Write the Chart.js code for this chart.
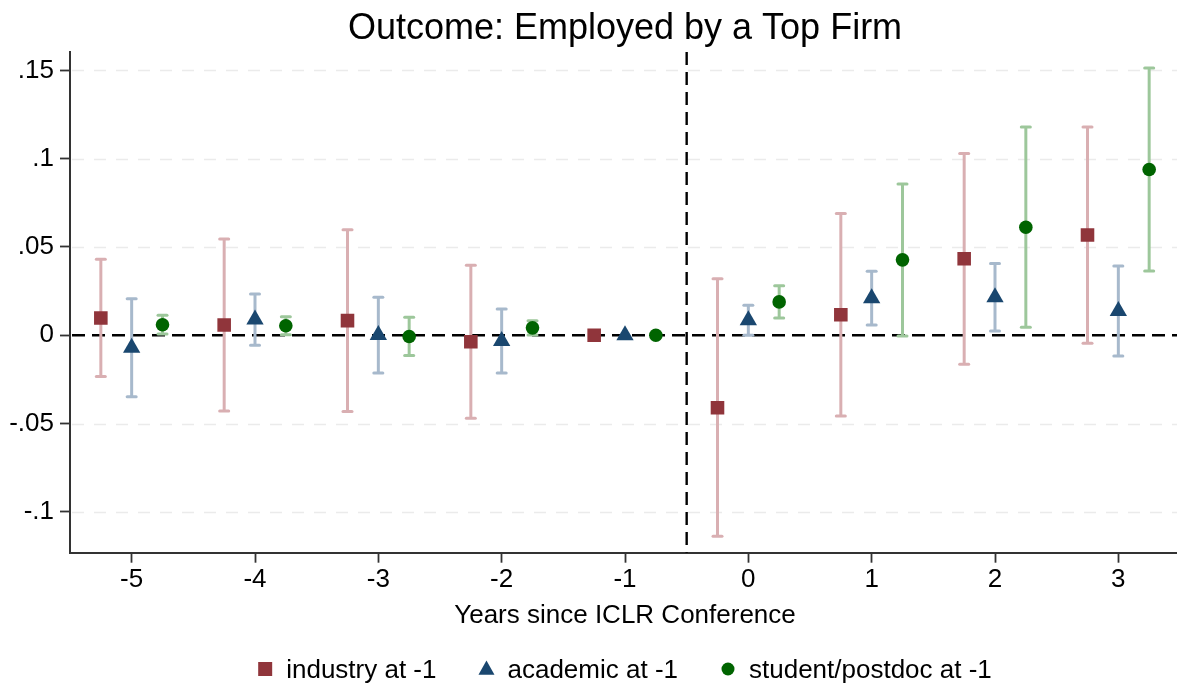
<!DOCTYPE html>
<html>
<head>
<meta charset="utf-8">
<script src="https://cdn.jsdelivr.net/npm/chart.js@4"></script>
<style>
  html, body { margin: 0; padding: 0; background: #fff; overflow: hidden; }
  #wrap { width: 1250px; height: 686px; }
</style>
</head>
<body>
<div id="wrap"><canvas id="c" width="1250" height="686"></canvas></div>
<script>
// Event-study estimates with 95% confidence intervals
const years = [-5, -4, -3, -2, -1, 0, 1, 2, 3];

const industryEst = [0.0098, 0.0058, 0.0083, -0.0037, 0, -0.0410, 0.0116, 0.0433, 0.0568];
const industryLo  = [-0.0234, -0.0429, -0.0432, -0.0470, null, -0.1138, -0.0457, -0.0164, -0.0045];
const industryHi  = [0.0430, 0.0545, 0.0598, 0.0396, null, 0.0320, 0.0689, 0.1030, 0.1180];

const academicEst = [-0.0071, 0.0089, 0.0001, -0.0032, 0, 0.0085, 0.0210, 0.0215, 0.0138];
const academicLo  = [-0.0348, -0.0057, -0.0213, -0.0213, null, 0.0000, 0.0058, 0.0024, -0.0117];
const academicHi  = [0.0207, 0.0234, 0.0215, 0.0149, null, 0.0170, 0.0362, 0.0406, 0.0392];

const studentEst = [0.0060, 0.0054, -0.0007, 0.0042, 0, 0.0189, 0.0427, 0.0612, 0.0939];
const studentLo  = [0.0007, 0.0003, -0.0115, 0.0002, null, 0.0098, -0.0004, 0.0045, 0.0364];
const studentHi  = [0.0113, 0.0105, 0.0102, 0.0083, null, 0.0281, 0.0857, 0.1180, 0.1514];

const seriesLabels = ['industry at -1', 'academic at -1', 'student/postdoc at -1'];

const yTickValues = [-0.1, -0.05, 0, 0.05, 0.1, 0.15];
const yTickLabels = ['-.1', '-.05', '0', '.05', '.1', '.15'];
const xTickLabels = ['-5', '-4', '-3', '-2', '-1', '0', '1', '2', '3'];

const titleText = 'Outcome: Employed by a Top Firm';
const xTitleText = 'Years since ICLR Conference';

const FONT = '"Liberation Sans", Arial, Helvetica, sans-serif';

const series = [
  { label: seriesLabels[0], est: industryEst, lo: industryLo, hi: industryHi, shift: -0.25,
    color: '#90353b', ciColor: '#d9afb2', style: 'rect', radius: 9.6 },
  { label: seriesLabels[1], est: academicEst, lo: academicLo, hi: academicHi, shift: 0,
    color: '#1a476f', ciColor: '#a7b9cc', style: 'triangle', radius: 10 },
  { label: seriesLabels[2], est: studentEst, lo: studentLo, hi: studentHi, shift: 0.25,
    color: '#006400', ciColor: '#9dc79b', style: 'circle', radius: 6.8 }
];

const datasets = series.map(s => ({
  label: s.label,
  data: years.map((yr, i) => ({ x: yr + s.shift, y: s.est[i] })),
  showLine: false,
  pointStyle: s.style,
  pointRadius: s.radius,
  pointHoverRadius: s.radius,
  pointBackgroundColor: s.color,
  pointBorderColor: s.color,
  pointBorderWidth: 0,
  ciColor: s.ciColor,
  lo: s.lo,
  hi: s.hi,
  shift: s.shift
}));

function drawMarker(ctx, style, x, y, size, color) {
  ctx.save();
  ctx.fillStyle = color;
  ctx.beginPath();
  if (style === 'rect') {
    ctx.rect(x - size / 2, y - size / 2, size, size);
  } else if (style === 'triangle') {
    const h = size * 0.88;
    ctx.moveTo(x, y - h * 0.6);
    ctx.lineTo(x + size / 2, y + h * 0.4);
    ctx.lineTo(x - size / 2, y + h * 0.4);
    ctx.closePath();
  } else {
    ctx.arc(x, y, size / 2, 0, Math.PI * 2);
  }
  ctx.fill();
  ctx.restore();
}

const decor = {
  id: 'decor',
  beforeDatasetsDraw(chart) {
    const { ctx, chartArea: a, scales: { x, y } } = chart;
    ctx.save();
    // light dashed horizontal grid
    ctx.strokeStyle = '#ebebeb';
    ctx.lineWidth = 1.6;
    ctx.setLineDash([12, 10]);
    yTickValues.forEach(v => {
      if (v === 0) return;
      const py = Math.round(y.getPixelForValue(v)) + 0.5;
      ctx.beginPath();
      ctx.moveTo(a.left + 2, py);
      ctx.lineTo(a.right, py);
      ctx.stroke();
    });
    // reference lines: zero effect and event timing
    ctx.strokeStyle = '#000';
    ctx.lineWidth = 2.4;
    ctx.setLineDash([13, 7]);
    const py0 = y.getPixelForValue(0);
    ctx.beginPath();
    ctx.moveTo(a.left + 2, py0);
    ctx.lineTo(a.right, py0);
    ctx.stroke();
    const px0 = x.getPixelForValue(-0.5);
    ctx.beginPath();
    ctx.moveTo(px0, a.top);
    ctx.lineTo(px0, a.bottom);
    ctx.stroke();
    ctx.setLineDash([]);
    // confidence intervals
    chart.data.datasets.forEach(ds => {
      ctx.strokeStyle = ds.ciColor;
      years.forEach((yr, i) => {
        if (ds.lo[i] === null || ds.hi[i] === null) return;
        const px = x.getPixelForValue(yr + ds.shift);
        const pLo = y.getPixelForValue(ds.lo[i]);
        const pHi = y.getPixelForValue(ds.hi[i]);
        ctx.lineWidth = 3;
        ctx.lineCap = 'butt';
        ctx.beginPath();
        ctx.moveTo(px, pLo);
        ctx.lineTo(px, pHi);
        ctx.stroke();
        ctx.lineCap = 'round';
        [pLo, pHi].forEach(p => {
          ctx.beginPath();
          ctx.moveTo(px - 4.5, p);
          ctx.lineTo(px + 4.5, p);
          ctx.stroke();
        });
      });
    });
    ctx.restore();
  },
  afterDraw(chart) {
    const { ctx, chartArea: a } = chart;
    const cx = (a.left + a.right) / 2;
    ctx.save();
    ctx.fillStyle = '#000';
    ctx.textAlign = 'center';
    ctx.textBaseline = 'alphabetic';
    ctx.font = '36px ' + FONT;
    ctx.fillText(titleText, cx, 39);
    ctx.font = '26px ' + FONT;
    ctx.fillText(xTitleText, cx, 623);

    // legend row
    ctx.font = '26px ' + FONT;
    const markGap = 21, itemGap = 50;
    const widths = chart.data.datasets.map(ds => markGap + ctx.measureText(ds.label).width);
    const total = widths.reduce((s, w) => s + w, 0) + itemGap * (widths.length - 1) + 7;
    let xPos = cx - total / 2 + 7;
    const ly = 669;
    ctx.textAlign = 'left';
    chart.data.datasets.forEach((ds, i) => {
      const st = ds.pointStyle;
      const size = st === 'rect' ? 14 : (st === 'triangle' ? 16 : 13);
      drawMarker(ctx, st, xPos, ly, size, ds.pointBackgroundColor);
      ctx.fillStyle = '#000';
      ctx.fillText(ds.label, xPos + markGap, ly + 9);
      xPos += widths[i] + itemGap;
    });
    ctx.restore();
  }
};

new Chart(document.getElementById('c'), {
  type: 'scatter',
  data: { datasets },
  options: {
    responsive: false,
    animation: false,
    events: [],
    layout: { padding: { top: 52, right: 70, left: 0, bottom: 0 } },
    plugins: { legend: { display: false }, tooltip: { enabled: false }, title: { display: false } },
    scales: {
      x: {
        type: 'linear',
        min: -5.5,
        max: 3.5,
        afterFit(scale) { scale.height = 686 - 552.7; },
        afterBuildTicks(scale) { scale.ticks = years.map(v => ({ value: v })); },
        ticks: {
          autoSkip: false,
          maxRotation: 0,
          padding: 2,
          color: '#000',
          font: { family: FONT, size: 26 },
          callback: (v) => xTickLabels[years.indexOf(v)]
        },
        grid: { drawOnChartArea: false, drawTicks: true, tickLength: 10, tickColor: '#333', tickWidth: 1.8 },
        border: { display: true, color: '#333', width: 2 }
      },
      y: {
        type: 'linear',
        min: -0.1231,
        max: 0.1604,
        afterFit(scale) { scale.width = 70; },
        afterBuildTicks(scale) { scale.ticks = yTickValues.map(v => ({ value: v })); },
        ticks: {
          autoSkip: false,
          padding: 6,
          color: '#000',
          font: { family: FONT, size: 26 },
          callback: (v) => yTickLabels[yTickValues.findIndex(t => Math.abs(t - v) < 1e-9)]
        },
        grid: { drawOnChartArea: false, drawTicks: true, tickLength: 10, tickColor: '#333', tickWidth: 1.8 },
        border: { display: true, color: '#333', width: 2 }
      }
    }
  },
  plugins: [decor]
});
</script>
</body>
</html>
